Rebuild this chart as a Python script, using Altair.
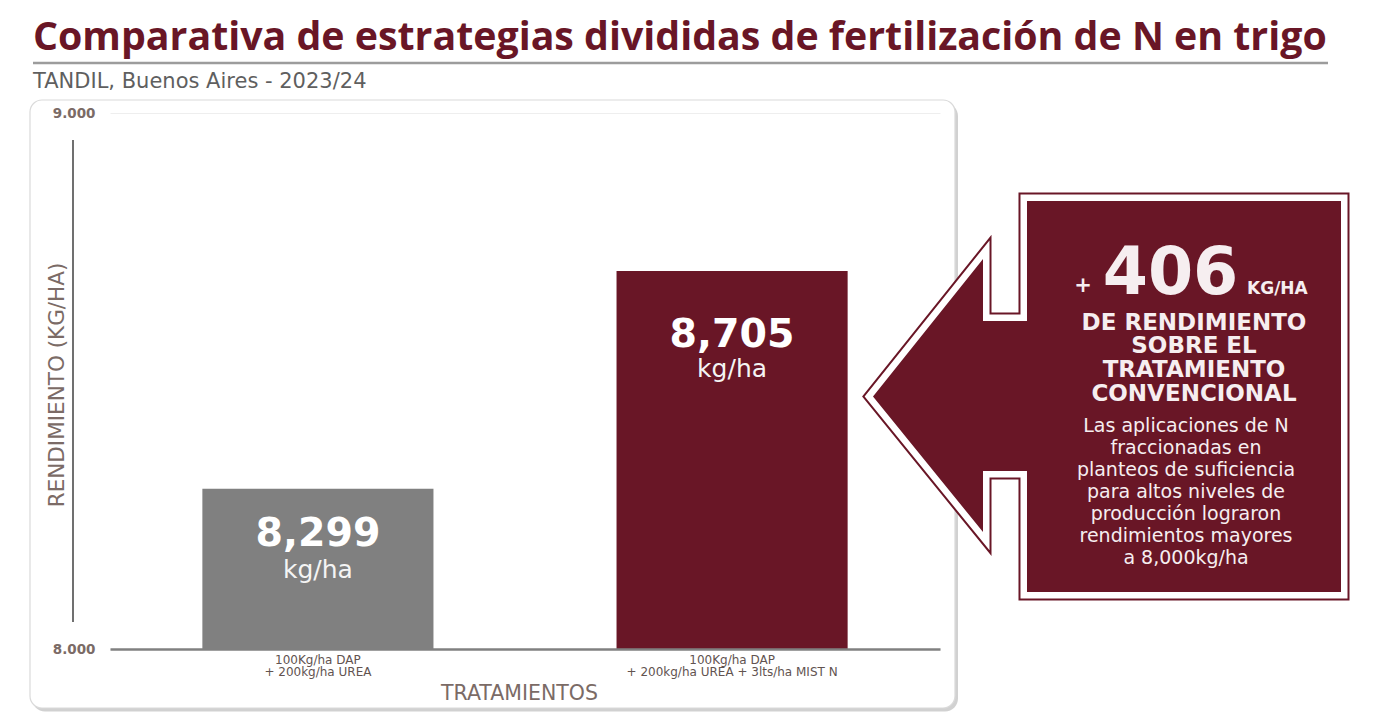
import altair as alt
import pandas as pd

# ---------------- data ----------------
title_text = "Comparativa de estrategias divididas de fertilización de N en trigo"
subtitle_text = "TANDIL, Buenos Aires - 2023/24"
treatments = ["100Kg/ha DAP\n+ 200kg/ha UREA",
              "100Kg/ha DAP\n+ 200kg/ha UREA + 3lts/ha MIST N"]
yields = [8299, 8705]
bar_colors = ["#808080", "#691626"]
y_ticks = [8000, 9000]
y_title = "RENDIMIENTO (KG/HA)"
x_title = "TRATAMIENTOS"
unit_text = "kg/ha"
gain_value = "406"
gain_unit = "KG/HA"
headline = ["DE RENDIMIENTO", "SOBRE EL", "TRATAMIENTO", "CONVENCIONAL"]
paragraph = ["Las aplicaciones de N", "fraccionadas en", "planteos de suficiencia",
             "para altos niveles de", "producción lograron", "rendimientos mayores",
             "a 8,000kg/ha"]

MAROON = "#691626"
BROWN_GRAY = "#7b6b66"
LIGHT = "#f6eef0"
TFONT = "Open Sans"
FONT = "DejaVu Sans"

df = pd.DataFrame({"trat": treatments, "rend": yields, "color": bar_colors})
df["num"] = df["rend"].map(lambda v: f"{v:,}")
one = pd.DataFrame({"k": [0]})

W, H = 830, 536

x_enc = alt.X("trat:N", sort=treatments,
              scale=alt.Scale(paddingInner=0.442, paddingOuter=0.223),
              axis=alt.Axis(title=None, labelAngle=0, zindex=1, labelLimit=0,
                            labelExpr="split(datum.label, '\\n')",
                            labelFont=FONT, labelFontSize=12, labelColor="#625350",
                            labelLineHeight=12, labelPadding=5, ticks=False,
                            domainColor="#808080", domainWidth=2.5))
y_enc = alt.Y("rend:Q", scale=alt.Scale(domain=[8000, 9000], zero=False, nice=False),
              axis=alt.Axis(title=None, values=y_ticks, domain=False, ticks=False,
                            grid=True, gridColor="#eeeeee", gridWidth=1, zindex=1,
                            labelExpr="replace(format(datum.value, ','), ',', '.')",
                            labelFont=FONT, labelFontSize=13.5, labelFontWeight="bold",
                            labelColor=BROWN_GRAY, labelPadding=15))


def deco():
    return alt.Chart(one)


title = deco().mark_text(text=title_text, font=TFONT, fontSize=39.3, fontWeight="bold",
                         color=MAROON, align="left", baseline="alphabetic").encode(
    x=alt.value(-77), y=alt.value(-63.5))
title_rule = deco().mark_rule(color="#9c9c9c", strokeWidth=2.6).encode(
    x=alt.value(-77), x2=alt.value(1218), y=alt.value(-50))
subtitle = deco().mark_text(text=subtitle_text, font=FONT, fontSize=21,
                            color="#5f5f5f", align="left", baseline="alphabetic").encode(
    x=alt.value(-77), y=alt.value(-25.5))

shadow = deco().mark_rect(color="#bdbdbd", cornerRadius=13, opacity=0.7).encode(
    x=alt.value(-78), x2=alt.value(848), y=alt.value(-10), y2=alt.value(598.5))
card = deco().mark_rect(fill="white", stroke="#dadada", strokeWidth=1.2,
                        cornerRadius=12).encode(
    x=alt.value(-80), x2=alt.value(845), y=alt.value(-13), y2=alt.value(595))

y_line = deco().mark_rule(color="#707070", strokeWidth=2).encode(
    x=alt.value(-37), y=alt.value(27), y2=alt.value(509))
y_title_mark = deco().mark_text(text=y_title, font=FONT, fontSize=21.5, angle=270,
                                color=BROWN_GRAY, baseline="middle", align="center").encode(
    x=alt.value(-52.5), y=alt.value(272))
x_title_mark = deco().mark_text(text=x_title, font=FONT, fontSize=20.5,
                                color=BROWN_GRAY, baseline="alphabetic", align="center").encode(
    x=alt.value(409.5), y=alt.value(587))

bars = alt.Chart(df).mark_bar().encode(
    x=x_enc, y=y_enc, y2=alt.datum(8000),
    color=alt.Color("color:N", scale=None))

bar_texts = []
for i, (d1, d2) in enumerate([(57, 89), (76, 106)]):
    base = alt.Chart(df).transform_filter(alt.datum.trat == treatments[i])
    bar_texts.append(base.mark_text(dy=d1, font=FONT, fontSize=39.5, fontWeight="bold",
                                    color="white", baseline="alphabetic").encode(
        x=alt.X("trat:N", sort=treatments), y="rend:Q", text="num:N"))
    bar_texts.append(base.mark_text(dy=d2, font=FONT, fontSize=25, text=unit_text,
                                    color="#f4f4f4", baseline="alphabetic").encode(
        x=alt.X("trat:N", sort=treatments), y="rend:Q"))

# callout arrow + box as one custom symbol (path in the unit square)
arrow_path = ("M -0.3419 -0.8355 L 1 -0.8355 L 1 0.8355 L -0.3419 0.8355 "
              "L -0.3419 0.3184 L -0.5299 0.3184 L -0.5299 0.5791 L -1 0 "
              "L -0.5299 -0.5876 L -0.5299 -0.3226 L -0.3419 -0.3226 Z")
ARROW_SIZE = 468 * 468
arrow_layers = []
for stroke, sw in [(MAROON, 17), ("white", 13)]:
    arrow_layers.append(deco().mark_point(shape=arrow_path, size=ARROW_SIZE, fill=MAROON,
                                          stroke=stroke, strokeWidth=sw, strokeJoin="miter",
                                          strokeMiterLimit=10, opacity=1, filled=True).encode(
        x=alt.value(997), y=alt.value(283.5)))
arrow_layers.append(deco().mark_point(shape=arrow_path, size=ARROW_SIZE, fill=MAROON,
                                      strokeWidth=0, opacity=1, filled=True).encode(
    x=alt.value(997), y=alt.value(283.5)))

plus = deco().mark_text(text="+", font=FONT, fontSize=21, fontWeight="bold",
                        color=LIGHT, baseline="alphabetic", align="center").encode(
    x=alt.value(973), y=alt.value(179))
big = deco().mark_text(text=gain_value, font=FONT, fontSize=65, fontWeight="bold",
                       color=LIGHT, baseline="alphabetic", align="center").encode(
    x=alt.value(1060.5), y=alt.value(181))
big_unit = deco().mark_text(text=gain_unit, font=FONT, fontSize=17, fontWeight="bold",
                            color=LIGHT, baseline="alphabetic", align="left").encode(
    x=alt.value(1137), y=alt.value(181))
head = deco().mark_text(text=headline, font=FONT, fontSize=23, fontWeight="bold",
                        lineHeight=23.7, color=LIGHT, baseline="alphabetic",
                        align="center").encode(
    x=alt.value(1084), y=alt.value(216.5))
para = deco().mark_text(text=paragraph, font=FONT, fontSize=19, lineHeight=22,
                        color=LIGHT, baseline="alphabetic", align="center").encode(
    x=alt.value(1076), y=alt.value(318.5))

chart = alt.layer(
    title, title_rule, subtitle, shadow, card, y_line, y_title_mark, x_title_mark,
    bars, *bar_texts, *arrow_layers, plus, big, big_unit, head, para
).properties(
    width=W, height=H, background="white",
    padding={"left": 102, "top": 105, "right": 428, "bottom": 64},
    autosize=alt.AutoSizeParams(type="none"),
).configure_view(stroke=None)

chart.save("out.html", embed_options={"renderer": "svg", "actions": False})
